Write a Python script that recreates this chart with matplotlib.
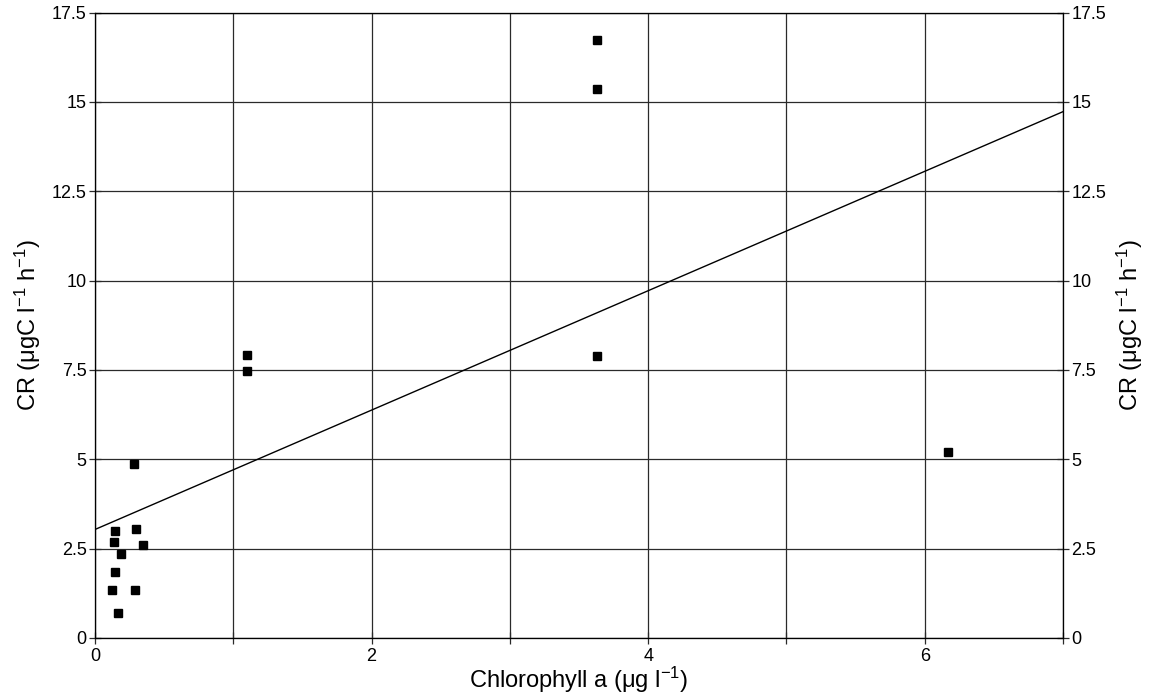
import numpy as np
import matplotlib
matplotlib.use("Agg")
import matplotlib.pyplot as plt
from matplotlib.ticker import MultipleLocator, FixedLocator

plt.rcParams['font.family'] = ['Liberation Sans', 'DejaVu Sans']
plt.rcParams['mathtext.fontset'] = 'custom'
plt.rcParams['mathtext.rm'] = 'Liberation Sans'
plt.rcParams['mathtext.it'] = 'Liberation Sans'

# chlorophyll a (ug/l) vs CR (ugC/l/h)
chl = [0.144, 0.30, 0.139, 0.35, 0.185, 0.146, 0.122, 0.288, 0.163, 0.28,
       1.10, 1.10, 3.63, 3.63, 3.63, 6.17]
cr = [3.00, 3.05, 2.69, 2.59, 2.34, 1.84, 1.34, 1.33, 0.71, 4.87,
      7.91, 7.46, 16.72, 15.35, 7.88, 5.21]

x_ticks = [0, 2, 4, 6]
y_ticks = [0, 2.5, 5, 7.5, 10, 12.5, 15, 17.5]
y_labels = ["0", "2.5", "5", "7.5", "10", "12.5", "15", "17.5"]

# linear fit through the points
slope, intercept = np.polyfit(chl, cr, 1)
xfit = np.array([0, 7])

fig = plt.figure(figsize=(11.53, 7.0), dpi=100)
ax = fig.add_axes([0.0824, 0.0886, 0.8396, 0.8934])

ax.plot(xfit, intercept + slope * xfit, color="black", lw=1.0, zorder=3)
ax.plot(chl, cr, "s", color="black", ms=6, zorder=4)

ax.set_xlim(0, 7)
ax.set_ylim(0, 17.5)
ax.xaxis.set_major_locator(FixedLocator(x_ticks))
ax.xaxis.set_minor_locator(MultipleLocator(1))
ax.set_yticks(y_ticks)
ax.set_yticklabels(y_labels)
ax.grid(True, which="both", axis="x", color="#2a2a2a", lw=0.9)
ax.grid(True, which="major", axis="y", color="#2a2a2a", lw=0.9)
ax.set_axisbelow(True)

for s in ax.spines.values():
    s.set_color("#2a2a2a")
    s.set_linewidth(0.9)

ax.tick_params(axis="both", which="both", direction="inout", length=8,
               width=0.9, color="#2a2a2a", labelsize=13)
ax.tick_params(axis="y", pad=2)
ax.tick_params(axis="x", pad=3)

ax2 = ax.twinx()
ax2.set_ylim(0, 17.5)
ax2.set_yticks(y_ticks)
ax2.set_yticklabels(y_labels)
ax2.tick_params(axis="y", direction="inout", length=8, width=0.9,
                color="#2a2a2a", labelsize=13, pad=2)

ylab = r"CR ($\mu$gC l$^{-1}$ h$^{-1}$)"
ax.set_ylabel(ylab, fontsize=17, labelpad=6)
ax2.set_ylabel(ylab, fontsize=17, labelpad=6)
ax.set_xlabel(r"Chlorophyll a ($\mu$g l$^{-1}$)", fontsize=17, labelpad=0)

fig.savefig("out.png", dpi=100, facecolor="white")
